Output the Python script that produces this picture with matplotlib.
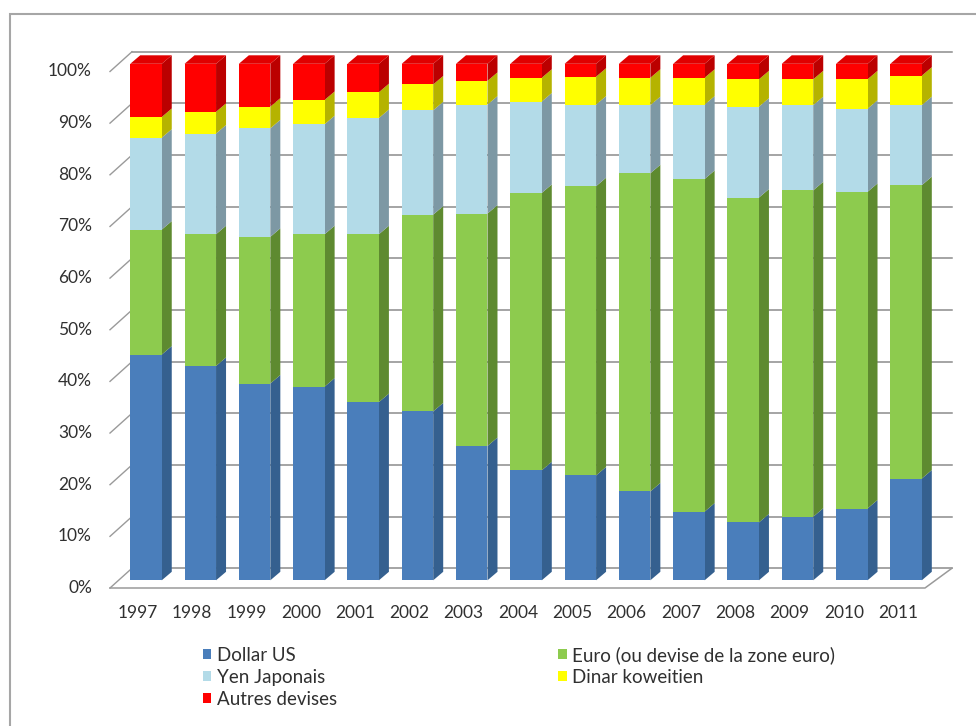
import matplotlib
matplotlib.use("Agg")
import matplotlib.pyplot as plt
from matplotlib.patches import Polygon, Rectangle

plt.rcParams["font.family"] = ["Lato", "DejaVu Sans"]

# Currency shares (%) by year, bottom to top of each stack
years = ["1997", "1998", "1999", "2000", "2001", "2002", "2003", "2004",
         "2005", "2006", "2007", "2008", "2009", "2010", "2011"]
dollar = [43.7, 41.5, 38.1, 37.5, 34.5, 32.7, 26.0, 21.3, 20.3, 17.2, 13.3, 11.2, 12.3, 13.9, 19.7]
euro = [24.2, 25.5, 28.4, 29.5, 32.5, 38.1, 45.0, 53.7, 56.0, 61.6, 64.4, 62.9, 63.2, 61.3, 56.8]
yen = [17.8, 19.5, 21.0, 21.3, 22.5, 20.2, 21.1, 17.7, 15.8, 13.2, 14.4, 17.6, 16.5, 16.1, 15.5]
dinar = [4.0, 4.2, 4.2, 4.7, 5.0, 5.0, 4.6, 4.6, 5.4, 5.3, 5.2, 5.3, 5.0, 5.7, 5.7]
autres = [10.3, 9.3, 8.3, 7.0, 5.5, 4.0, 3.3, 2.7, 2.5, 2.7, 2.7, 3.0, 3.0, 3.0, 2.3]

series = [
    ("Dollar US", dollar, "#4a7ebb", "#35608f"),
    ("Euro (ou devise de la zone euro)", euro, "#8dcb4e", "#5e8a30"),
    ("Yen Japonais", yen, "#b3dbe8", "#7d98a4"),
    ("Dinar koweitien", dinar, "#ffff00", "#b5b300"),
    ("Autres devises", autres, "#ff0000", "#bb0000"),
]
top_color = "#e00000"
yticks = [0, 10, 20, 30, 40, 50, 60, 70, 80, 90, 100]

W, H = 976, 726
fig = plt.figure(figsize=(W / 100, H / 100), dpi=100)
ax = fig.add_axes([0, 0, 1, 1])

# pixel scale of one category step and one percent on the bar front plane
sx, sy = 54.29, 5.165
x0_px, y0_px = 146, 580.3
ax.set_xlim(-x0_px / sx, (W - x0_px) / sx)
ax.set_ylim((y0_px - H) / sy, y0_px / sy)
ax.axis("off")


def px_x(p):
    return (p - x0_px) / sx


def px_y(p):
    return (y0_px - p) / sy


# oblique depth offsets (in data units)
bar_dx, bar_dy = 10 / sx, 8.5 / sy
wall_dy = px_y(568.2)     # back wall 0 %
front_dy = px_y(588.0)    # floor front edge / label plane
wall_left, wall_right = px_x(132), px_x(952)
floor_left, floor_right = px_x(110), px_x(925)

# back wall gridlines + side wall ticks
for v in yticks:
    ax.plot([wall_left, wall_right], [v + wall_dy] * 2, color="#8c8c8c", lw=1.1, zorder=1)
    ax.plot([floor_left, wall_left], [v + front_dy, v + wall_dy], color="#9a9a9a", lw=1.0, zorder=1)
    ax.text(px_x(92), v + front_dy, f"{v}%", ha="right", va="center",
            fontsize=12.5, color="#303030")

# floor
ax.plot([floor_left, floor_right, wall_right], [front_dy, front_dy, wall_dy],
        color="#9a9a9a", lw=1.1, zorder=1)

# stacked 3D-looking columns
x = list(range(len(years)))
width = 31.5 / sx
bottoms = [0.0] * len(years)
handles = {}
for name, vals, front, side in series:
    bars = ax.bar(x, vals, bottom=bottoms, width=width, color=front,
                  linewidth=0, label=name, zorder=3)
    handles[name] = bars
    for xi, b, v in zip(x, bottoms, vals):
        xr = xi + width / 2
        ax.add_patch(Polygon([(xr, b), (xr + bar_dx, b + bar_dy),
                              (xr + bar_dx, b + v + bar_dy), (xr, b + v)],
                             closed=True, facecolor=side, edgecolor="none", zorder=2.5))
    bottoms = [b + v for b, v in zip(bottoms, vals)]

# red top faces
for xi, top in zip(x, bottoms):
    xl, xr = xi - width / 2, xi + width / 2
    ax.add_patch(Polygon([(xl, top), (xr, top), (xr + bar_dx, top + bar_dy),
                          (xl + bar_dx, top + bar_dy)],
                         closed=True, facecolor=top_color, edgecolor="none", zorder=3))

# category labels on the front plane
for xi, yr in zip(x, years):
    ax.text(xi - 8 / sx, px_y(613), yr, ha="center", va="center",
            fontsize=12.5, color="#303030")

# legend laid out row by row: left column first
order = ["Dollar US", "Yen Japonais", "Autres devises",
         "Euro (ou devise de la zone euro)", "Dinar koweitien"]
leg = fig.legend(handles=[handles[n] for n in order], labels=order,
                 loc="upper left", ncol=2, frameon=False,
                 bbox_to_anchor=(203 / W, 1 - 646 / H), borderpad=0, borderaxespad=0,
                 fontsize=13.5, handlelength=0.45, handleheight=0.45, handletextpad=0.3,
                 labelspacing=0.26, columnspacing=11.8)
for t in leg.get_texts():
    t.set_color("#303030")

# chart frame
fig.add_artist(Rectangle((10 / W, -0.05), 1.1, 1.05 - 14 / H, transform=fig.transFigure,
                         fill=False, edgecolor="#a6a6a6", lw=1.5))

fig.savefig("out.png", dpi=100, facecolor="white")
